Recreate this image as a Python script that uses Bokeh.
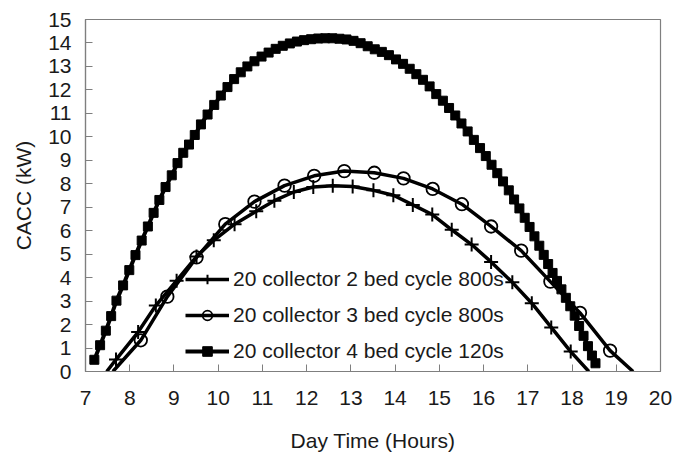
from bokeh.plotting import figure
from bokeh.models import Range1d, FixedTicker, Legend, LegendItem
from bokeh.embed import file_html
from bokeh.resources import INLINE

# ---- data ----
x_ticks = [7, 8, 9, 10, 11, 12, 13, 14, 15, 16, 17, 18, 19, 20]
y_ticks = [0, 1, 2, 3, 4, 5, 6, 7, 8, 9, 10, 11, 12, 13, 14, 15]

labels = ["20 collector 2 bed cycle 800s",
          "20 collector 3 bed cycle 800s",
          "20 collector 4 bed cycle 120s"]

# 2 bed (+ markers)
bed2_x = [7.69, 8.19, 8.59, 9.06, 9.51, 9.90, 10.37, 10.86, 11.27, 11.71, 12.15, 12.59,
          13.04, 13.51, 13.96, 14.40, 14.84, 15.28, 15.73, 16.17, 16.65, 17.09, 17.53, 17.97]
bed2_y = [0.51, 1.68, 2.81, 3.87, 4.90, 5.59, 6.28, 6.83, 7.28, 7.65, 7.86, 7.92,
          7.88, 7.72, 7.51, 7.10, 6.69, 6.04, 5.41, 4.67, 3.80, 2.91, 1.88, 0.85]
bed2_line_start = 7.48
bed2_line_end = 18.38

# 3 bed (o markers)
bed3_x = [8.25, 8.85, 9.51, 10.16, 10.82, 11.50, 12.17, 12.85, 13.53, 14.19, 14.85,
          15.51, 16.17, 16.85, 17.51, 18.18, 18.86]
bed3_y = [1.33, 3.19, 4.86, 6.28, 7.24, 7.92, 8.34, 8.54, 8.47, 8.23, 7.78,
          7.13, 6.18, 5.15, 3.83, 2.50, 0.89]
bed3_line_start = 7.62
bed3_line_end = 19.38

# 4 bed (square markers)
bed4_x = [7.20, 7.33, 7.46, 7.58, 7.70, 7.85, 7.99, 8.13, 8.27, 8.41, 8.54, 8.67, 8.81,
          8.95, 9.08, 9.21, 9.34, 9.47, 9.61, 9.76, 9.91, 10.06, 10.21, 10.36, 10.51,
          10.66, 10.82, 10.98, 11.14, 11.30, 11.46, 11.62, 11.78, 11.94, 12.10, 12.26,
          12.42, 12.58, 12.74, 12.90, 13.06, 13.22, 13.38, 13.54, 13.70, 13.86, 14.02,
          14.18, 14.33, 14.48, 14.63, 14.78, 14.93, 15.08, 15.22, 15.36, 15.50, 15.64,
          15.78, 15.92, 16.05, 16.18, 16.31, 16.44, 16.57, 16.69, 16.81, 16.93, 17.04,
          17.15, 17.26, 17.36, 17.46, 17.56, 17.66, 17.76, 17.86, 17.96, 18.06, 18.16,
          18.26, 18.36, 18.45, 18.53]
bed4_y = [0.50, 1.12, 1.74, 2.36, 3.02, 3.67, 4.32, 4.96, 5.58, 6.18, 6.76, 7.31, 7.86,
          8.36, 8.88, 9.32, 9.67, 10.08, 10.53, 10.95, 11.36, 11.76, 12.12, 12.46, 12.75,
          13.00, 13.22, 13.42, 13.59, 13.75, 13.88, 13.98, 14.06, 14.12, 14.16, 14.19,
          14.20, 14.20, 14.18, 14.15, 14.09, 13.99, 13.86, 13.73, 13.62, 13.48, 13.30,
          13.11, 12.90, 12.67, 12.43, 12.15, 11.82, 11.54, 11.23, 10.91, 10.57, 10.23,
          9.87, 9.52, 9.18, 8.81, 8.45, 8.10, 7.72, 7.33, 6.95, 6.55, 6.16,
          5.76, 5.36, 4.97, 4.58, 4.20, 3.86, 3.50, 3.14, 2.78, 2.38, 1.94,
          1.52, 1.08, 0.68, 0.35]

FONT = "Liberation Sans"
INK = "#1a1a1a"
GRAY = "#7f7f7f"

p = figure(width=676, height=455, output_backend="svg", toolbar_location=None,
           x_range=Range1d(7, 20), y_range=Range1d(0, 15),
           min_border_left=85, min_border_right=16, min_border_top=19,
           min_border_bottom=84)
p.xgrid.visible = False
p.ygrid.visible = False
p.outline_line_color = GRAY
p.outline_line_width = 1.2
p.background_fill_color = "white"
p.border_fill_color = "white"

for ax in (p.xaxis[0], p.yaxis[0]):
    ax.axis_line_color = GRAY
    ax.axis_line_width = 1.2
    ax.major_tick_line_color = GRAY
    ax.major_tick_in = 7
    ax.major_tick_out = 0
    ax.minor_tick_line_color = None
    ax.major_label_text_font = FONT
    ax.major_label_text_font_size = "21px"
    ax.major_label_text_color = INK
    ax.axis_label_text_font = FONT
    ax.axis_label_text_font_size = "21px"
    ax.axis_label_text_font_style = "normal"
    ax.axis_label_text_color = INK

p.xaxis.ticker = FixedTicker(ticks=x_ticks)
p.yaxis.ticker = FixedTicker(ticks=y_ticks)
p.xaxis.axis_label = "Day Time (Hours)"
p.yaxis.axis_label = "CACC (kW)"
p.xaxis.major_label_standoff = 19
p.yaxis.major_label_standoff = 14
p.xaxis.axis_label_standoff = 21
p.yaxis.axis_label_standoff = 10

# series
l2 = p.line([bed2_line_start] + bed2_x + [bed2_line_end], [0] + bed2_y + [0],
            line_color="black", line_width=3.5)
s2 = p.scatter(bed2_x, bed2_y, marker="cross", size=14, line_color="black", line_width=2)

l3 = p.line([bed3_line_start] + bed3_x + [bed3_line_end], [0] + bed3_y + [0],
            line_color="black", line_width=3.5)
s3 = p.scatter(bed3_x, bed3_y, marker="circle", size=12.5, line_color="black",
               line_width=1.8, fill_color=None)

l4 = p.line(bed4_x, bed4_y, line_color="black", line_width=4)
s4 = p.scatter(bed4_x, bed4_y, marker="square", size=9, fill_color="black",
               line_color="black")

legend = Legend(items=[LegendItem(label=labels[0], renderers=[l2, s2]),
                       LegendItem(label=labels[1], renderers=[l3, s3]),
                       LegendItem(label=labels[2], renderers=[l4, s4])],
                location=(100, 8), padding=0, margin=0, spacing=12,
                glyph_width=44, glyph_height=24, label_standoff=4,
                label_text_font=FONT, label_text_font_size="21px",
                label_text_color=INK, background_fill_alpha=0,
                border_line_alpha=0)
p.add_layout(legend)

open("out.html", "w").write(file_html(p, INLINE))
